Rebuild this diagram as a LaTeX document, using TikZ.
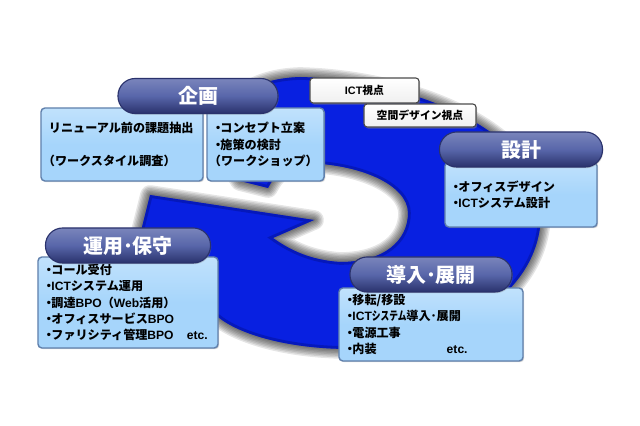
\documentclass[tikz,border=0pt]{standalone}
\usepackage{fontspec}
\setmainfont{Noto Sans CJK JP}
\newfontfamily\latfont{Liberation Sans}
\usepackage{graphicx}
\usepackage{xcolor}
\usepackage{tikz}
\usetikzlibrary{positioning}
\usetikzlibrary{shadows}
\definecolor{ringblue}{RGB}{8,32,225}
\definecolor{ringdark}{RGB}{4,18,150}
\definecolor{boxblue}{RGB}{166,213,251}
\definecolor{boxedge}{RGB}{96,128,172}
\definecolor{pillmid}{RGB}{88,102,170}
\definecolor{pilldark}{RGB}{42,50,108}
\tikzset{
    block/.style={
           rectangle,
           rounded corners=0.1cm,
           draw=boxedge, line width=1pt,
           top color=boxblue!70!white,
           bottom color=boxblue,
           middle color=boxblue,
           inner xsep=0.2cm,
           inner ysep=0pt,
           outer sep=0pt,
           align=left,
           font=\fontsize{8.6}{11.7}\selectfont\bfseries,
           drop shadow={shadow xshift=0.03cm,shadow yshift=-0.03cm,opacity=0.35},
           },
    pill/.style={
           rectangle,
           rounded corners=0.43cm,
           draw=pilldark, line width=0.8pt,
           top color=pillmid!80!white,
           bottom color=pilldark,
           middle color=pillmid,
           text=white,
           minimum height=0.875cm,
           inner sep=0pt,
           outer sep=0pt,
           text centered,
           font=\fontsize{14.2}{16}\selectfont\bfseries,
           drop shadow={shadow xshift=0.02cm,shadow yshift=-0.03cm,opacity=0.35},
           },
    view/.style={
           rectangle,
           rounded corners=0.08cm,
           draw=black!70, line width=0.8pt,
           top color=white,
           bottom color=black!6,
           inner sep=0pt,
           outer sep=0pt,
           text centered,
           font=\fontsize{7.7}{9}\selectfont\bfseries,
           drop shadow={shadow xshift=0.03cm,shadow yshift=-0.04cm,opacity=0.5},
           },
}
\def\ringpath{(150,195) -- (314,220) -- (273,238)
    .. controls (290,250) and (310,260) .. (340,262)
    .. controls (385,262) and (408,240) .. (408,213)
    .. controls (408,185) and (360,163) .. (300,163)
    .. controls (285,163) and (275,175) .. (268,188)
    -- (240,181)
    .. controls (215,140) and (215,80) .. (300,77)
    .. controls (420,80) and (541,135) .. (541,213)
    .. controls (541,300) and (440,349) .. (350,349)
    .. controls (290,349) and (240,335) .. (218,317)
    .. controls (190,300) and (150,280) .. (135,255) -- cycle}
\newcommand{\narrow}[1]{\scalebox{0.72}[1]{#1}}
\newcommand{\lat}[1]{{\latfont #1}}
\newcommand{\dotmark}{\hspace{-0.25em}・\hspace{-0.3em}}
\begin{document}
\begin{tikzpicture}[x=0.025cm,y=-0.025cm]
	\useasboundingbox (0,0) rectangle (640,426);
	
	%ring and its soft shadow
	\foreach \w in {2,4,...,14}{
		\draw[line width=\w pt, black, opacity=0.1, line join=round] \ringpath;
	}
	\fill[ringblue] \ringpath;
	\begin{scope}
		\clip \ringpath;
		\draw[ringdark, line width=4pt, opacity=0.5] \ringpath;
	\end{scope}
	
	%text boxes
	\node[block, text width=3.65cm, minimum height=1.825cm] (planl) at (122,144.5) {%
		リニューアル前の課題抽出\\[11.7pt]
		\hspace{-0.5em}（ワークスタイル調査）};
	\node[block, text width=2.525cm, minimum height=1.825cm, right=0.1cm of planl] (planr) {%
		\dotmark コンセプト立案\\
		\dotmark 施策の検討\\
		\makebox[0pt][l]{\hspace{-0.5em}（ワークショップ）}};
	\node[block, text width=3.4cm, minimum height=1.625cm] (designb) at (521,194.5) {%
		\dotmark オフィスデザイン\\
		\dotmark \lat{ICT}システム設計};
	\node[block, text width=4.1cm, minimum height=2.275cm] (opsb) at (128,302.5) {%
		\dotmark コール受付\\
		\dotmark \lat{ICT}システム運用\\
		\dotmark 調達\lat{BPO}（\lat{Web}活用）\\
		\dotmark オフィスサービス\lat{BPO}\\
		\dotmark ファリシティ管理\lat{BPO}\hspace{1.1em}\lat{etc.}};
	\node[block, text width=4.2cm, minimum height=1.825cm] (introb) at (431,324.5) {%
		\dotmark 移転/移設\\
		\dotmark \lat{ICT}\narrow{システム}導入･展開\\
		\dotmark 電源工事\\
		\dotmark 内装\hspace{5.8em}\lat{etc.}};
	
	%titles
	\node[pill, minimum width=4.0cm] (plan) at (198,96) {企画};
	\node[pill, minimum width=4.075cm, above=-0.125cm of designb] (design) {設計};
	\node[pill, minimum width=4.125cm, above=-0.15cm of opsb] (ops) {運用･保守};
	\node[pill, minimum width=4.05cm, above=-0.1cm of introb] (intro) {導入･展開};
	
	%view labels
	\node[view, minimum width=2.725cm, minimum height=0.625cm] (ict) at (364.5,90.5) {\lat{ICT}視点};
	\node[view, minimum width=2.8cm, minimum height=0.575cm] (space) at (420,115.5) {空間デザイン視点};
	
\end{tikzpicture}
\end{document}
